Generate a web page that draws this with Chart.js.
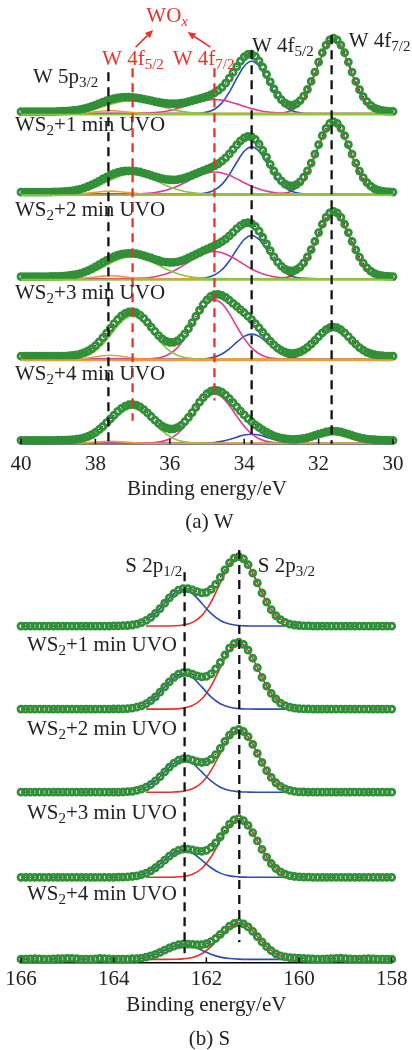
<!DOCTYPE html>
<html><head><meta charset="utf-8">
<script src="https://cdn.jsdelivr.net/npm/chart.js@4.4.1/dist/chart.umd.min.js"></script>
<style>
html,body{margin:0;padding:0;background:#fff;overflow:hidden;}
#wrapA{position:absolute;left:0;top:0;width:412px;height:535px;}
#wrapB{position:absolute;left:0;top:535px;width:412px;height:515px;}
</style></head><body>
<div id="wrapA"><canvas id="cA"></canvas></div>
<div id="wrapB"><canvas id="cB"></canvas></div>
<script>
// ---------------- DATA: panel (a) W 4f ----------------
// measured points (0.1 eV)
const energyWData = [40.0,39.9,39.8,39.7,39.6,39.5,39.4,39.3,39.2,39.1,
 39.0,38.9,38.8,38.7,38.6,38.5,38.4,38.3,38.2,38.1,
 38.0,37.9,37.8,37.7,37.6,37.5,37.4,37.3,37.2,37.1,
 37.0,36.9,36.8,36.7,36.6,36.5,36.4,36.3,36.2,36.1,
 36.0,35.9,35.8,35.7,35.6,35.5,35.4,35.3,35.2,35.1,
 35.0,34.9,34.8,34.7,34.6,34.5,34.4,34.3,34.2,34.1,
 34.0,33.9,33.8,33.7,33.6,33.5,33.4,33.3,33.2,33.1,
 33.0,32.9,32.8,32.7,32.6,32.5,32.4,32.3,32.2,32.1,
 32.0,31.9,31.8,31.7,31.6,31.5,31.4,31.3,31.2,31.1,
 31.0,30.9,30.8,30.7,30.6,30.5,30.4,30.3,30.2,30.1,
 30.0];
// fitted components (0.2 eV)
const energyW = [40.0,39.8,39.6,39.4,39.2,39.0,38.8,38.6,38.4,38.2,38.0,37.8,37.6,37.4,37.2,37.0,36.8,36.6,36.4,36.2,36.0,35.8,35.6,35.4,35.2,35.0,34.8,34.6,34.4,34.2,34.0,33.8,33.6,33.4,33.2,33.0,32.8,32.6,32.4,32.2,32.0,31.8,31.6,31.4,31.2,31.0,30.8,30.6,30.4,30.2,30.0];
const offsetsW = [328, 248, 164, 84, 0.5];
const sampleLabelsW = [['WS','2','+1 min UVO'],['WS','2','+2 min UVO'],['WS','2','+3 min UVO'],['WS','2','+4 min UVO']];
const sampleLabelValW = [311, 226, 144, 63];

const w1Data = [2,2,2,2,2,2,2,2.1,2.1,2.1,
 2.2,2.4,2.5,2.8,3.1,3.5,4.2,5.0,6.0,7.2,
 8.5,10.0,11.4,12.8,14.0,15.0,15.7,16.2,16.3,16.3,
 16.1,15.7,15.1,14.5,13.7,12.9,12.0,11.3,10.7,10.2,
 9.9,9.9,10.0,10.4,11.0,11.8,12.8,13.8,14.8,15.9,
 17.1,18.6,20.5,23.0,26.1,30.3,35.3,40.9,46.7,52.2,
 56.4,58.9,59.0,56.9,52.3,46.2,38.9,31.5,24.5,18.5,
 13.8,10.5,8.7,8.5,9.8,12.8,17.4,24.0,32.1,41.3,
 51.2,60.5,68.1,73.2,75,73.2,68.1,60.5,51.2,41.3,
 32.0,23.8,17.0,11.9,8.2,5.7,4.1,3.1,2.6,2.3,
 2.2];
const w2Data = [2,2,2,2,2,2,2.1,2.1,2.1,2.2,
 2.3,2.5,2.8,3.1,3.6,4.2,5.1,6.3,7.6,9.2,
 11.0,13.0,15.1,17.0,18.9,20.4,21.7,22.5,23.1,23.2,
 23.1,22.7,22.0,21.0,19.9,18.7,17.5,16.3,15.4,14.6,
 14.3,14.2,14.5,15.2,16.1,17.4,18.8,20.3,21.8,23.3,
 24.8,26.4,28.1,30.2,32.9,36.1,40.0,44.4,48.9,53.0,
 56.0,57.5,56.9,54.3,49.7,43.5,36.7,29.6,23.0,17.4,
 13.1,10.0,8.4,8.1,9.5,12.3,16.9,23.1,30.9,39.7,
 49.2,58.1,65.4,70.3,72,70.3,65.4,58.1,49.2,39.7,
 30.8,22.9,16.4,11.5,8.0,5.5,4.0,3.1,2.6,2.3,
 2.1];
const w3Data = [2,2,2,2,2,2,2.1,2.1,2.2,2.2,
 2.4,2.6,2.8,3.2,3.7,4.4,5.4,6.6,8.1,9.8,
 11.7,13.9,16.1,18.3,20.2,22.0,23.4,24.4,25.0,25.2,
 25.2,24.8,24.0,23.0,21.8,20.6,19.2,18.1,17.0,16.4,
 16.1,16.3,16.8,17.7,19.0,20.6,22.4,24.2,26.0,27.8,
 29.5,31.1,32.9,34.6,36.9,39.4,42.6,46.1,49.7,52.8,
 55.0,55.8,54.7,51.9,47.2,41.2,34.6,28.0,21.8,16.5,
 12.4,9.5,8.1,7.8,8.9,11.6,15.8,21.6,28.8,37.0,
 45.8,54.1,60.9,65.4,67,65.4,60.9,54.1,45.8,37.0,
 28.7,21.4,15.4,10.8,7.5,5.3,3.9,3.0,2.5,2.3,
 2.1];
const w4Data = [3,3,3,3,3,3,3,3,3,3,
 3.1,3.1,3.2,3.5,3.8,4.3,5.2,6.5,8.3,10.6,
 13.6,17.3,21.4,26.0,30.7,35.3,39.5,43.1,45.6,47.1,
 47.3,46.2,43.8,40.6,36.5,32.0,27.6,23.5,20.2,17.9,
 16.7,16.8,18.3,21.1,25.2,30.3,36.3,42.5,48.7,54.4,
 59.0,62.4,64.1,64.5,63.4,61.4,58.6,55.5,52.5,49.3,
 46.2,42.9,39.3,35.4,31.2,26.6,22.2,17.9,14.2,11.1,
 8.7,7.0,6.0,5.8,6.2,7.3,9.2,11.7,15.0,18.6,
 22.5,26.2,29.3,31.3,32,31.3,29.3,26.2,22.5,18.6,
 14.9,11.6,9.0,6.9,5.5,4.5,3.8,3.5,3.2,3.1,
 3.1];
const w5Data = [3,3,3,3,3,3,3,3,3,3,
 3.1,3.1,3.2,3.3,3.6,4.0,4.7,5.5,6.9,8.6,
 10.9,13.7,16.9,20.5,24.3,28.0,31.7,34.7,37.0,38.3,
 38.7,37.9,36.1,33.5,30.2,26.6,23.0,19.8,17.0,15.2,
 14.2,14.3,15.6,17.9,21.4,25.7,30.5,35.7,40.8,45.4,
 49.2,51.7,52.8,52.4,50.8,47.9,44.3,40.3,36.1,32.0,
 28.2,24.6,21.4,18.4,15.7,13.2,11.0,9.1,7.4,6.2,
 5.2,4.5,4.1,3.9,4.0,4.3,4.9,5.7,6.7,7.9,
 9.1,10.2,11.2,11.8,12,11.8,11.2,10.2,9.1,7.9,
 6.7,5.7,4.9,4.2,3.8,3.5,3.3,3.1,3.1,3.0,
 3];

// fitted components (W 4f7/2 red, W 4f5/2 blue, WOx 4f7/2 pink, WOx 4f5/2 green, W 5p3/2 orange)
const w1Red = [0,0,0,0,0,0,0,0,0,0,0,0,0,0,0,0,0,0,0,0,0,0,0,0,0,0,0,0,0,0,0,0,0,0,.2,.6,2.1,6.2,15,30,49.2,66.1,73,66.1,49.2,30,15,6.2,2.1,.6,.2];
const w1Blue = [0,0,0,0,0,0,0,0,0,0,0,0,0,0,0,0,0,0,0,0,0,0,0,.1,.4,1.5,4.4,10.7,21.4,35,47.1,52,47.1,35,21.4,10.7,4.4,1.5,.4,.1,0,0,0,0,0,0,0,0,0,0,0];
const w1Pink = [0,0,0,0,0,0,0,0,0,0,0,0,0,0,0,.1,.2,.5,1,1.9,3.2,5,7.3,9.7,11.9,13.4,14,13.4,11.9,9.7,7.3,5,3.2,1.9,1,.5,.2,.1,0,0,0,0,0,0,0,0,0,0,0,0,0];
const w1Green = [0,0,0,0,.1,.2,.5,.9,1.8,3,4.7,6.8,9,11,12.5,13,12.5,11,9,6.8,4.7,3,1.8,.9,.5,.2,.1,0,0,0,0,0,0,0,0,0,0,0,0,0,0,0,0,0,0,0,0,0,0,0,0];
const w1Orange = [0,0,0,0,0,0,0,.1,.4,1,1.8,2.6,3,2.6,1.8,1,.4,.1,0,0,0,0,0,0,0,0,0,0,0,0,0,0,0,0,0,0,0,0,0,0,0,0,0,0,0,0,0,0,0,0,0];

const w2Red = [0,0,0,0,0,0,0,0,0,0,0,0,0,0,0,0,0,0,0,0,0,0,0,0,0,0,0,0,0,0,0,0,0,0,.1,.6,2,6,14.4,28.8,47.2,63.4,70,63.4,47.2,28.8,14.4,6,2,.6,.1];
const w2Blue = [0,0,0,0,0,0,0,0,0,0,0,0,0,0,0,0,0,0,0,0,0,0,0,.1,.4,1.4,4,9.7,19.3,31.7,42.6,47,42.6,31.7,19.3,9.7,4,1.4,.4,.1,0,0,0,0,0,0,0,0,0,0,0];
const w2Pink = [0,0,0,0,0,0,0,0,0,0,0,0,0,0,.1,.2,.4,.8,1.6,3,5.1,7.9,11.4,15.2,18.7,21.1,22,21.1,18.7,15.2,11.4,7.9,5.1,3,1.6,.8,.4,.2,.1,0,0,0,0,0,0,0,0,0,0,0,0];
const w2Green = [0,0,0,.1,.1,.3,.7,1.5,2.7,4.6,7.2,10.4,13.9,17,19.2,20,19.2,17,13.9,10.4,7.2,4.6,2.7,1.5,.7,.3,.1,.1,0,0,0,0,0,0,0,0,0,0,0,0,0,0,0,0,0,0,0,0,0,0,0];
const w2Orange = [0,0,0,0,0,0,0,.1,.4,1,1.8,2.6,3,2.6,1.8,1,.4,.1,0,0,0,0,0,0,0,0,0,0,0,0,0,0,0,0,0,0,0,0,0,0,0,0,0,0,0,0,0,0,0,0,0];

const w3Red = [0,0,0,0,0,0,0,0,0,0,0,0,0,0,0,0,0,0,0,0,0,0,0,0,0,0,0,0,0,0,0,0,0,0,.1,.5,1.9,5.5,13.4,26.7,43.8,58.9,65,58.9,43.8,26.7,13.4,5.5,1.9,.5,.1];
const w3Blue = [0,0,0,0,0,0,0,0,0,0,0,0,0,0,0,0,0,0,0,0,0,0,0,.1,.3,1.3,3.7,8.9,17.7,29,39,43,39,29,17.7,8.9,3.7,1.3,.3,.1,0,0,0,0,0,0,0,0,0,0,0];
const w3Pink = [0,0,0,0,0,0,0,0,0,0,0,0,0,0,.1,.2,.5,1,2,3.6,6.2,9.7,14,18.7,22.9,25.9,27,25.9,22.9,18.7,14,9.7,6.2,3.6,2,1,.5,.2,.1,0,0,0,0,0,0,0,0,0,0,0,0];
const w3Green = [0,0,0,.1,.2,.4,.8,1.6,3,5.1,7.9,11.4,15.2,18.7,21.1,22,21.1,18.7,15.2,11.4,7.9,5.1,3,1.6,.8,.4,.2,.1,0,0,0,0,0,0,0,0,0,0,0,0,0,0,0,0,0,0,0,0,0,0,0];
const w3Orange = [0,0,0,0,0,0,0,.1,.4,1,1.8,2.6,3,2.6,1.8,1,.4,.1,0,0,0,0,0,0,0,0,0,0,0,0,0,0,0,0,0,0,0,0,0,0,0,0,0,0,0,0,0,0,0,0,0];

const w4Red = [0,0,0,0,0,0,0,0,0,0,0,0,0,0,0,0,0,0,0,0,0,0,0,0,0,0,0,0,0,0,0,0,0,0,.1,.2,.8,2.5,6,11.9,19.5,26.3,29,26.3,19.5,11.9,6,2.5,.8,.2,.1];
const w4Blue = [0,0,0,0,0,0,0,0,0,0,0,0,0,0,0,0,0,0,0,0,0,0,0,.1,.2,.7,2.1,5.2,10.3,16.9,22.7,25,22.7,16.9,10.3,5.2,2.1,.7,.2,.1,0,0,0,0,0,0,0,0,0,0,0];
const w4Pink = [0,0,0,0,0,0,0,0,0,0,0,0,0,0,0,0,.1,.3,.9,2.3,5.5,11.3,20.5,32.6,45.3,55.2,59,55.2,45.3,32.6,20.5,11.3,5.5,2.3,.9,.3,.1,0,0,0,0,0,0,0,0,0,0,0,0,0,0];
const w4Green = [0,0,0,0,0,.1,.2,.6,1.7,4,8.2,14.9,23.7,33,40.2,43,40.2,33,23.7,14.9,8.2,4,1.7,.6,.2,.1,0,0,0,0,0,0,0,0,0,0,0,0,0,0,0,0,0,0,0,0,0,0,0,0,0];
const w4Orange = [0,0,0,0,0,0,0,.2,.5,1.3,2.4,3.5,4,3.5,2.4,1.3,.5,.2,0,0,0,0,0,0,0,0,0,0,0,0,0,0,0,0,0,0,0,0,0,0,0,0,0,0,0,0,0,0,0,0,0];

const w5Red = [0,0,0,0,0,0,0,0,0,0,0,0,0,0,0,0,0,0,0,0,0,0,0,0,0,0,0,0,0,0,0,0,0,0,0,.1,.3,.8,1.9,3.7,6.1,8.2,9,8.2,6.1,3.7,1.9,.8,.3,.1,0];
const w5Blue = [0,0,0,0,0,0,0,0,0,0,0,0,0,0,0,0,0,0,0,0,0,0,0,0,.1,.3,.8,1.9,3.7,6.1,8.2,9,8.2,6.1,3.7,1.9,.8,.3,.1,0,0,0,0,0,0,0,0,0,0,0,0];
const w5Pink = [0,0,0,0,0,0,0,0,0,0,0,0,0,0,0,0,.1,.2,.7,1.9,4.5,9.4,17,27,37.6,45.9,49,45.9,37.6,27,17,9.4,4.5,1.9,.7,.2,.1,0,0,0,0,0,0,0,0,0,0,0,0,0,0];
const w5Green = [0,0,0,0,0,0,.2,.5,1.4,3.2,6.7,12.1,19.3,26.9,32.8,35,32.8,26.9,19.3,12.1,6.7,3.2,1.4,.5,.2,0,0,0,0,0,0,0,0,0,0,0,0,0,0,0,0,0,0,0,0,0,0,0,0,0,0];
const w5Orange = [0,0,0,0,0,0,0,0,.3,.7,1.2,1.8,2,1.8,1.2,.7,.3,.1,0,0,0,0,0,0,0,0,0,0,0,0,0,0,0,0,0,0,0,0,0,0,0,0,0,0,0,0,0,0,0,0,0];

const refEnergyW = [37.65, 37.0, 34.8, 33.8, 31.65];
const refTopW = [369, 373, 373, 391, 406];
const refBottomW = [0, 23, 43, 0, 0];

// ---------------- DATA: panel (b) S 2p ----------------
const energySData = [166.0,165.9,165.8,165.7,165.6,165.5,165.4,165.3,165.2,165.1,
 165.0,164.9,164.8,164.7,164.6,164.5,164.4,164.3,164.2,164.1,
 164.0,163.9,163.8,163.7,163.6,163.5,163.4,163.3,163.2,163.1,
 163.0,162.9,162.8,162.7,162.6,162.5,162.4,162.3,162.2,162.1,
 162.0,161.9,161.8,161.7,161.6,161.5,161.4,161.3,161.2,161.1,
 161.0,160.9,160.8,160.7,160.6,160.5,160.4,160.3,160.2,160.1,
 160.0,159.9,159.8,159.7,159.6,159.5,159.4,159.3,159.2,159.1,
 159.0,158.9,158.8,158.7,158.6,158.5,158.4,158.3,158.2,158.1,
 158.0];
const energyS = [165.9,165.7,165.5,165.3,165.1,164.9,164.7,164.5,164.3,164.1,163.9,163.7,163.5,163.3,163.1,162.9,162.7,162.5,162.3,162.1,161.9,161.7,161.5,161.3,161.1,160.9,160.7,160.5,160.3,160.1,159.9,159.7,159.5,159.3,159.1,158.9,158.7,158.5,158.3,158.1];
const offsetsS = [332, 250, 168, 84, 3];
const sampleLabelValS = [307, 224, 142, 62];

const s1Data = [0,0,0,0,0,0,0,0,0,0,0,0,0,0,0,0,0,0,0,0,
 .1,.1,.3,.5,1.0,1.9,3.3,5.5,8.5,12.5,
 17.2,22.5,27.7,32.2,35.5,37.0,36.9,35.6,33.9,32.8,
 33.3,36.1,41.1,48.0,55.5,62.4,67.0,68.5,66.3,60.6,
 52.3,42.5,32.6,23.6,16.1,10.3,6.3,3.6,1.9,1.0,
 .5,.2,.1,0,0,0,0,0,0,0,0,0,0,0,0,0,0,0,0,0,0];
const s2Data = [0,0,0,0,0,0,0,0,0,0,0,0,0,0,0,0,0,0,0,0,
 .1,.1,.2,.5,1.0,1.9,3.2,5.3,8.3,12.1,
 16.8,21.9,26.9,31.3,34.5,36.0,35.9,34.6,32.8,31.9,
 32.3,34.8,39.7,46.2,53.4,60.1,64.6,66.0,63.8,58.3,
 50.3,40.9,31.4,22.7,15.5,10.0,6.0,3.5,1.9,.9,
 .5,.2,.1,0,0,0,0,0,0,0,0,0,0,0,0,0,0,0,0,0,0];
const s3Data = [0,0,0,0,0,0,0,0,0,0,0,0,0,0,0,0,0,0,0,0,
 0,.1,.2,.5,.9,1.7,3.0,4.9,7.6,11.1,
 15.3,20.0,24.6,28.6,31.5,32.9,32.9,31.7,30.2,29.3,
 29.9,32.4,37.1,43.3,50.2,56.4,60.6,62.0,59.9,54.8,
 47.2,38.4,29.5,21.3,14.6,9.3,5.7,3.3,1.8,.9,
 .4,.2,.1,0,0,0,0,0,0,0,0,0,0,0,0,0,0,0,0,0,0];
const s4Data = [0,0,0,0,0,0,0,0,0,0,0,0,0,0,0,0,0,0,0,0,
 0,.1,.2,.4,.8,1.4,2.5,4.1,6.4,9.4,
 12.9,16.9,20.8,24.2,26.6,27.8,27.8,27.0,26.0,25.6,
 26.5,29.4,33.9,40.0,46.6,52.5,56.6,57.9,56.0,51.2,
 44.1,35.9,27.5,20.0,13.6,8.7,5.3,3.0,1.6,.8,
 .4,.2,.1,0,0,0,0,0,0,0,0,0,0,0,0,0,0,0,0,0,0];
const s5Data = [.2,.3,.5,.6,.4,.2,.3,.4,.6,.8,
 .9,1.0,.6,.3,.2,.2,.5,.9,.7,.4,
 .3,.2,.3,.2,.6,.8,1.3,2.2,3.4,5.0,
 6.9,9.1,11.2,13.0,14.4,15.0,15.1,14.8,14.4,14.6,
 15.4,17.5,20.6,24.7,28.9,32.8,35.4,36.2,35.1,32.0,
 27.6,22.5,17.2,12.5,8.5,5.5,3.5,2.4,1.8,1.4,
 1.2,.9,.6,.4,.3,.3,.5,.7,.9,1.1,
 .8,.4,.3,.2,.4,.6,.5,.3,.3,.2,
 .2];

const N = null;
const s1Red  = [N,N,N,N,N,N,N,N,N,N,N,N,N,0,0,0,.2,1,3.6,10.3,23.6,42.5,60.5,68,60.5,42.5,23.6,10.3,3.6,N,N,N,N,N,N,N,N,N,N,N];
const s1Blue = [N,N,N,N,N,N,N,N,N,N,N,N,N,5.5,12.5,22.5,32,36,32,22.5,12.5,5.5,1.9,.5,.1,0,0,0,0,N,N,N,N,N,N,N,N,N,N,N];
const s2Red  = [N,N,N,N,N,N,N,N,N,N,N,N,N,0,0,0,.2,1,3.5,10,22.7,40.9,58.2,65.5,58.2,40.9,22.7,10,3.5,N,N,N,N,N,N,N,N,N,N,N];
const s2Blue = [N,N,N,N,N,N,N,N,N,N,N,N,N,5.3,12.1,21.9,31.1,35,31.1,21.9,12.1,5.3,1.9,.5,.1,0,0,0,0,N,N,N,N,N,N,N,N,N,N,N];
const s3Red  = [N,N,N,N,N,N,N,N,N,N,N,N,N,0,0,0,.2,.9,3.3,9.3,21.3,38.4,54.7,61.5,54.7,38.4,21.3,9.3,3.3,N,N,N,N,N,N,N,N,N,N,N];
const s3Blue = [N,N,N,N,N,N,N,N,N,N,N,N,N,4.9,11.1,20,28.4,32,28.4,20,11.1,4.9,1.7,.5,.1,0,0,0,0,N,N,N,N,N,N,N,N,N,N,N];
const s4Red  = [N,N,N,N,N,N,N,N,N,N,N,N,N,0,0,0,.2,.8,3,8.7,20,35.9,51.1,57.5,51.1,35.9,20,8.7,3,N,N,N,N,N,N,N,N,N,N,N];
const s4Blue = [N,N,N,N,N,N,N,N,N,N,N,N,N,4.1,9.4,16.9,24,27,24,16.9,9.4,4.1,1.4,.4,.1,0,0,0,0,N,N,N,N,N,N,N,N,N,N,N];
const s5Red  = [N,N,N,N,N,N,N,N,N,N,N,N,N,0,0,0,.1,.5,1.9,5.5,12.5,22.5,32,36,32,22.5,12.5,5.5,1.9,N,N,N,N,N,N,N,N,N,N,N];
const s5Blue = [N,N,N,N,N,N,N,N,N,N,N,N,N,2.2,5,9.1,12.9,14.5,12.9,9.1,5,2.2,.8,.2,0,0,0,0,0,N,N,N,N,N,N,N,N,N,N,N];

const refEnergyS = [162.47, 161.29];
const refTopS = [385, 407];
const refBottomS = [9, 20];

// ---------------- STYLE ----------------
const FONT = '"Liberation Serif", "Times New Roman", serif';
const TXT = '#222';
const RING = '#318f38';
const C = {red:'#e8312b', blue:'#2b4db4', pink:'#e23c96', green:'#8cc63f', orange:'#f39a3a', refRed:'#e8322c'};

function richText(ctx, x, y, parts, color, italicSub) {
  ctx.save();
  ctx.fillStyle = color; ctx.textBaseline = 'alphabetic'; ctx.textAlign = 'left';
  let cx = x;
  parts.forEach((t, k) => {
    const sub = k % 2 === 1;
    ctx.font = (sub && italicSub ? 'italic ' : '') + (sub ? 15 : 21) + 'px ' + FONT;
    ctx.fillText(t, cx, y + (sub ? 4 : 0));
    cx += ctx.measureText(t).width;
  });
  ctx.restore();
}
function arrow(ctx, x0, y0, x1, y1, color) {
  ctx.save();
  ctx.strokeStyle = color; ctx.fillStyle = color; ctx.lineWidth = 1.6;
  const ang = Math.atan2(y1 - y0, x1 - x0), L = 8, W = 3.6;
  const bx = x1 - L * Math.cos(ang), by = y1 - L * Math.sin(ang);
  ctx.beginPath(); ctx.moveTo(x0, y0); ctx.lineTo(bx, by); ctx.stroke();
  ctx.beginPath(); ctx.moveTo(x1, y1);
  ctx.lineTo(bx + W * Math.sin(ang), by - W * Math.cos(ang));
  ctx.lineTo(bx - W * Math.sin(ang), by + W * Math.cos(ang));
  ctx.closePath(); ctx.fill();
  ctx.restore();
}
const decor = {
  id: 'decor',
  afterDatasetsDraw(chart, args, opts) {
    const {ctx} = chart; const xs = chart.scales.x, ys = chart.scales.y;
    ctx.save(); ctx.strokeStyle = '#000'; ctx.lineWidth = 1.5;
    xs.ticks.forEach(t => { const px = xs.getPixelForValue(t.value); ctx.beginPath(); ctx.moveTo(px, ys.bottom); ctx.lineTo(px, ys.bottom - 5); ctx.stroke(); });
    ctx.restore();
    (opts.texts || []).forEach(a => richText(ctx, xs.getPixelForValue(a.e), ys.getPixelForValue(a.v), a.parts, a.color, a.italicSub));
    (opts.arrows || []).forEach(a => arrow(ctx, xs.getPixelForValue(a.e0), ys.getPixelForValue(a.v0), xs.getPixelForValue(a.e1), ys.getPixelForValue(a.v1), a.color));
  }
};

function pts(xArr, yArr, off) { return xArr.map((e, i) => ({x: e, y: yArr[i] === null ? null : off + yArr[i]})); }
function ringSet(data) {
  return {data, showLine: false, pointRadius: 3.0, pointBorderWidth: 2.8, pointBorderColor: RING,
    pointBackgroundColor: 'rgba(255,255,255,0)', order: 2, clip: false};
}
function curve(data, color, width, order, dash) {
  return {data, borderColor: color, borderWidth: width, pointRadius: 0, tension: 0.4,
    cubicInterpolationMode: 'monotone', borderDash: dash || [], order, clip: false, spanGaps: false, fill: false};
}
function baseOpts(xmin, xmax, ymax, padTop, tickPad, titlePadTop, capPadTop, capPadBottom, caption, plugOpts) {
  return {
    responsive: true, maintainAspectRatio: false, animation: false, devicePixelRatio: 1, events: [],
    layout: {padding: {top: padTop, left: 21, right: 14, bottom: 0}},
    scales: {
      x: {type: 'linear', min: xmin, max: xmax, reverse: true,
        ticks: {stepSize: 2, autoSkip: false, maxRotation: 0, padding: tickPad, color: TXT, font: {family: FONT, size: 21}},
        grid: {display: false, drawTicks: false, tickLength: 0},
        border: {display: true, color: '#000', width: 1.5},
        title: {display: true, text: 'Binding energy/eV', color: TXT, font: {family: FONT, size: 21}, padding: {top: titlePadTop, bottom: 0}}},
      y: {display: false, min: 0, max: ymax}
    },
    plugins: {
      legend: {display: false}, tooltip: {enabled: false},
      title: {display: true, position: 'bottom', text: caption, color: TXT, font: {family: FONT, size: 21, weight: 'normal'}, padding: {top: capPadTop, bottom: capPadBottom}},
      decor: plugOpts
    }
  };
}

// ---------------- PANEL A ----------------
(function () {
  const dataW = [w1Data, w2Data, w3Data, w4Data, w5Data];
  const comps = [
    [w1Red, w1Blue, w1Pink, w1Green, w1Orange],
    [w2Red, w2Blue, w2Pink, w2Green, w2Orange],
    [w3Red, w3Blue, w3Pink, w3Green, w3Orange],
    [w4Red, w4Blue, w4Pink, w4Green, w4Orange],
    [w5Red, w5Blue, w5Pink, w5Green, w5Orange]];
  const ds = [];
  dataW.forEach((d, s) => {
    const off = offsetsW[s];
    const [r, b, p, g, o] = comps[s];
    const greenTop = s < 3;
    ds.push(curve(pts(energyWData, d, off), '#111', 1.3, 8, [1.5, 2.5]));
    ds.push(curve(pts(energyW, r, off), C.red, 1.6, 7));
    ds.push(curve(pts(energyW, b, off), C.blue, 1.6, 6));
    ds.push(curve(pts(energyW, p, off), C.pink, 1.6, 5));
    ds.push(curve(pts(energyW, o, off), C.orange, 1.6, greenTop ? 4 : 3));
    ds.push(curve(pts(energyW, g, off), C.green, 1.6, greenTop ? 3 : 4));
    ds.push(ringSet(pts(energyWData, d, off)));
    if (s < 4) {
      ds.push(curve([{x: energyW[0], y: off - 1}, {x: energyW[energyW.length - 1], y: off - 1}], greenTop ? C.green : C.orange, 1.8, 1));
    }
  });
  refEnergyW.forEach((e, k) => {
    const col = (k === 1 || k === 2) ? C.refRed : '#111';
    ds.push({data: [{x: e, y: refTopW[k]}, {x: e, y: refBottomW[k]}], borderColor: col, borderWidth: 2.3,
      borderDash: [9, 6], pointRadius: 0, order: 0, clip: false});
  });
  const texts = [
    {e: 39.68, v: 358, parts: ['W 5p', '3/2'], color: TXT},
    {e: 36.63, v: 419, parts: ['WO', 'x'], color: C.refRed, italicSub: true},
    {e: 37.82, v: 376, parts: ['W 4f', '5/2'], color: C.refRed},
    {e: 35.92, v: 376, parts: ['W 4f', '7/2'], color: C.refRed},
    {e: 33.79, v: 389, parts: ['W 4f', '5/2'], color: TXT},
    {e: 31.19, v: 394, parts: ['W 4f', '7/2'], color: TXT}
  ];
  sampleLabelsW.forEach((parts, k) => texts.push({e: 40.16, v: sampleLabelValW[k], parts, color: TXT}));
  const arrows = [
    {e0: 36.92, v0: 394, e1: 36.45, v1: 411, color: C.refRed},
    {e0: 34.91, v0: 394, e1: 35.52, v1: 409, color: C.refRed}
  ];
  new Chart(document.getElementById('cA'), {
    type: 'line', data: {datasets: ds},
    options: baseOpts(30, 40, 425, 16, 8.5, -9.2, 7.8, 0, '(a) W', {texts, arrows}),
    plugins: [decor]
  });
})();

// ---------------- PANEL B ----------------
(function () {
  const dataS = [s1Data, s2Data, s3Data, s4Data, s5Data];
  const comps = [[s1Red, s1Blue], [s2Red, s2Blue], [s3Red, s3Blue], [s4Red, s4Blue], [s5Red, s5Blue]];
  const ds = [];
  dataS.forEach((d, s) => {
    const off = offsetsS[s];
    ds.push(curve(pts(energySData, d, off), '#111', 1.3, 8, [1.5, 2.5]));
    ds.push(curve(pts(energyS, comps[s][0], off), C.red, 1.6, 6));
    ds.push(curve(pts(energyS, comps[s][1], off), C.blue, 1.6, 5));
    ds.push(ringSet(pts(energySData, d, off)));
  });
  refEnergyS.forEach((e, k) => {
    ds.push({data: [{x: e, y: refTopS[k]}, {x: e, y: refBottomS[k]}], borderColor: '#111', borderWidth: 2.3,
      borderDash: [9, 6], pointRadius: 0, order: 0, clip: false});
  });
  const texts = [
    {e: 163.75, v: 385, parts: ['S 2p', '1/2'], color: TXT},
    {e: 160.89, v: 385, parts: ['S 2p', '3/2'], color: TXT}
  ];
  sampleLabelsW.forEach((parts, k) => texts.push({e: 165.87, v: sampleLabelValS[k], parts, color: TXT}));
  new Chart(document.getElementById('cB'), {
    type: 'line', data: {datasets: ds},
    options: baseOpts(158, 166, 410, 12, 4.5, -3.8, 8.8, -2, '(b) S', {texts, arrows: []}),
    plugins: [decor]
  });
})();
</script>
</body></html>
